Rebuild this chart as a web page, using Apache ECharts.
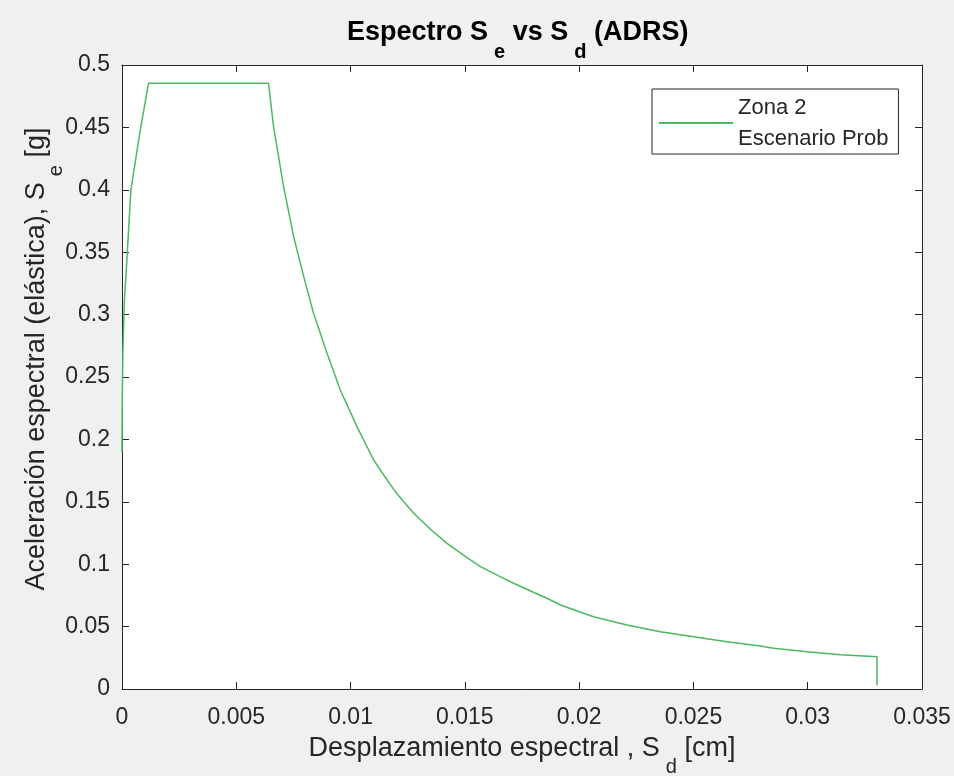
<!DOCTYPE html>
<html>
<head>
<meta charset="utf-8">
<title>Espectro ADRS</title>
<script src="https://cdn.jsdelivr.net/npm/echarts@6/dist/echarts.min.js"></script>
<style>
    html, body { margin: 0; padding: 0; background: #f0f0f0; }
    #chart { width: 954px; height: 776px; }
</style>
</head>
<body>
<div id="chart"></div>
<script type="text/javascript">
    // valores (Sd en cm, Se en g)
    var sdValues = [0, 0.00001, 0.00004, 0.0001, 0.0002, 0.00039, 0.0008, 0.00116,
        0.00641, 0.00663, 0.00707, 0.00751, 0.00795, 0.00838, 0.00897, 0.00955,
        0.01028, 0.01101, 0.0113, 0.012, 0.01276, 0.0135, 0.01422, 0.015, 0.01568,
        0.0165, 0.01713, 0.018, 0.01859, 0.01918, 0.02063, 0.02209, 0.02355,
        0.02501, 0.02647, 0.02793, 0.02851, 0.02997, 0.03143, 0.03303, 0.03303];
    var seValues = [0.19, 0.23, 0.27, 0.31, 0.34, 0.40, 0.448, 0.4853,
        0.4853, 0.4506, 0.4025, 0.3624, 0.3304, 0.301, 0.269, 0.2396,
        0.2102, 0.1835, 0.1755, 0.157, 0.1408, 0.128, 0.1167, 0.1065, 0.098,
        0.0905, 0.0847, 0.0775, 0.0727, 0.0673, 0.0579, 0.0513, 0.0459,
        0.0419, 0.0379, 0.0345, 0.0326, 0.0298, 0.0275, 0.0259, 0.003];
    var xMin = 0, xMax = 0.035, xStep = 0.005;
    var yMin = 0, yMax = 0.5, yStep = 0.05;
    var seriesName = 'Zona 2\nEscenario Prob';

    var fontName = "'Liberation Sans', Arial, sans-serif";
    var ink = '#262626';

    var myChart = echarts.init(document.getElementById('chart'));

    // texto con subindice (S_e, S_d)
    function richLabel(size, bold) {
        return {
            a: { fontSize: size, fontWeight: bold ? 'bold' : 'normal', fontFamily: fontName, color: bold ? '#000' : ink, lineHeight: 30 },
            s: { fontSize: Math.round(size * 0.75), fontWeight: bold ? 'bold' : 'normal', fontFamily: fontName, color: bold ? '#000' : ink,
                 lineHeight: 19, verticalAlign: 'top', padding: [24, 0, 0, 6] }
        };
    }

    var axisBase = {
        type: 'value',
        axisLine: { show: true, onZero: false, lineStyle: { color: ink, width: 1 } },
        axisTick: { show: true, inside: true, length: 7, lineStyle: { color: ink } },
        splitLine: { show: false }
    };

    var option = {
        backgroundColor: '#f0f0f0',
        animation: false,
        title: {
            text: '{a|Espectro S}{s|e}{a| vs S}{s|d}{a| (ADRS)}',
            left: 347,
            top: 18,
            padding: 0,
            textStyle: { rich: richLabel(27, true) }
        },
        legend: {
            left: 652,
            top: 89,
            orient: 'vertical',
            data: [seriesName],
            selectedMode: false,
            icon: 'rect',
            itemWidth: 74,
            itemHeight: 2,
            padding: [3, 10, 0, 7],
            backgroundColor: '#fff',
            borderColor: ink,
            borderWidth: 1,
            borderRadius: 0,
            textStyle: { fontSize: 22, fontFamily: fontName, color: ink, lineHeight: 31 }
        },
        grid: {
            left: 122,
            right: 32,
            top: 65,
            bottom: 87,
            outerBoundsMode: 'none',
            show: true,
            backgroundColor: '#fff',
            borderWidth: 0
        },
        xAxis: [
            Object.assign({}, axisBase, {
                position: 'bottom',
                min: xMin, max: xMax, interval: xStep,
                name: '{a|Desplazamiento espectral , S}{s|d}{a| [cm]}',
                nameLocation: 'middle',
                nameGap: 44,
                nameTextStyle: { rich: richLabel(27, false) },
                axisLabel: { fontSize: 23, fontFamily: fontName, color: ink, margin: 17 }
            }),
            Object.assign({}, axisBase, {
                position: 'top',
                min: xMin, max: xMax, interval: xStep,
                axisLabel: { show: false }
            })
        ],
        yAxis: [
            Object.assign({}, axisBase, {
                position: 'left',
                min: yMin, max: yMax, interval: yStep,
                name: '{a|Aceleración espectral (elástica), S}{s|e}{a| [g]}',
                nameLocation: 'middle',
                nameGap: 70,
                nameMoveOverlap: false,
                nameTextStyle: { padding: [0, 0, 0, 36], rich: richLabel(27, false) },
                axisLabel: { fontSize: 23, fontFamily: fontName, color: ink, margin: 12 }
            }),
            Object.assign({}, axisBase, {
                position: 'right',
                min: yMin, max: yMax, interval: yStep,
                axisLabel: { show: false }
            })
        ],
        series: [{
            name: seriesName,
            type: 'line',
            xAxisIndex: 0,
            yAxisIndex: 0,
            showSymbol: false,
            symbol: 'none',
            color: '#4cb860',
            lineStyle: { width: 1.5, color: '#4cb860' },
            data: sdValues.map(function (x, i) { return [x, seValues[i]]; })
        }]
    };

    myChart.setOption(option);
</script>
</body>
</html>
